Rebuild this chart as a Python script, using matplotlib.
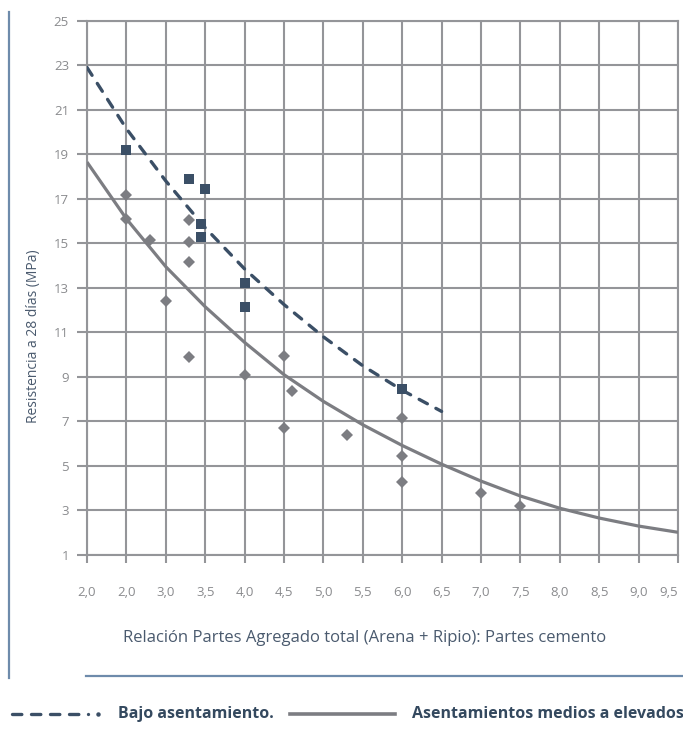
import numpy as np
import matplotlib
matplotlib.use("Agg")
import matplotlib.pyplot as plt
from matplotlib.lines import Line2D

# eixos
xTicks = [2.0, 2.5, 3.0, 3.5, 4.0, 4.5, 5.0, 5.5, 6.0, 6.5, 7.0, 7.5, 8.0, 8.5, 9.0, 9.5]
xTickLabels = ["2,0", "2,0", "3,0", "3,5", "4,0", "4,5", "5,0", "5,5",
               "6,0", "6,5", "7,0", "7,5", "8,0", "8,5", "9,0", "9,5"]
yTicks = [1, 3, 5, 7, 9, 11, 13, 15, 17, 19, 21, 23, 25]

# pontos - bajo asentamiento (quadrados)
bajoX = [2.5, 3.3, 3.5, 3.45, 3.45, 4.0, 4.0, 6.0]
bajoY = [19.2, 17.9, 17.45, 15.85, 15.3, 13.2, 12.15, 8.45]

# pontos - asentamientos medios a elevados (losangos)
mediosX = [2.5, 2.5, 2.8, 3.3, 3.3, 3.3, 3.0, 3.3, 4.0, 4.5, 4.6, 4.5, 5.3, 6.0, 6.0, 6.0, 7.0, 7.5]
mediosY = [17.15, 16.1, 15.15, 16.05, 15.05, 14.15, 12.4, 9.9, 9.1, 9.95, 8.35, 6.7, 6.4, 7.15, 5.45, 4.3, 3.8, 3.2]

# curvas
curvaBajoX = [2.0, 2.5, 3.0, 3.5, 4.0, 4.5, 5.0, 5.5, 6.0, 6.5]
curvaBajoY = [22.9, 20.15, 17.8, 15.7, 13.85, 12.25, 10.8, 9.5, 8.4, 7.45]
curvaMediosX = [2.0, 2.5, 3.0, 3.5, 4.0, 4.5, 5.0, 5.5, 6.0, 6.5, 7.0, 7.5, 8.0, 8.5, 9.0, 9.5]
curvaMediosY = [18.65, 16.1, 13.95, 12.15, 10.55, 9.1, 7.9, 6.85, 5.92, 5.08, 4.32, 3.65, 3.1, 2.66, 2.3, 2.02]

navy = "#3b4f66"
grey = "#7c7d82"
gridGrey = "#949599"
textGrey = "#8a8b8e"
labelColor = "#4a5a6e"
frameBlue = "#6e8bab"

W, H = 683, 736
fig = plt.figure(figsize=(W / 100, H / 100), dpi=100)
fig.patch.set_facecolor("white")

ax = fig.add_axes([87 / W, 1 - 555 / H, (678 - 87) / W, (555 - 20.7) / H])
ax.set_xlim(2.0, 9.5)
ax.set_ylim(1, 25)

ax.set_xticks(xTicks)
ax.set_xticklabels(xTickLabels)
ax.set_yticks(yTicks)
ax.grid(True, color=gridGrey, linewidth=1.5, zorder=0)
ax.set_axisbelow(True)
for s in ax.spines.values():
    s.set_color(gridGrey)
    s.set_linewidth(1.5)
ax.tick_params(axis="x", length=6, width=1.5, color=gridGrey, pad=16,
               labelsize=9.5, labelcolor=textGrey)
ax.tick_params(axis="y", length=7, width=1.5, color=gridGrey, pad=6,
               labelsize=9.5, labelcolor=textGrey)
for lbl in ax.get_xticklabels() + ax.get_yticklabels():
    lbl.set_fontfamily("Open Sans")
# o ultimo rotulo fica encostado na borda
ax.get_xticklabels()[-1].set_horizontalalignment("right")

ax.plot(curvaMediosX, curvaMediosY, color=grey, linewidth=2.3, zorder=3, solid_capstyle="butt")
ax.plot(curvaBajoX, curvaBajoY, color=navy, linewidth=2.4, dashes=(2.8, 2.9),
        dash_capstyle="round", zorder=4)
ax.plot(mediosX, mediosY, linestyle="none", marker="D", markersize=6.5,
        color=grey, markeredgewidth=0, zorder=5)
ax.plot(bajoX, bajoY, linestyle="none", marker="s", markersize=7,
        color=navy, markeredgewidth=0, zorder=5)

fig.text(34 / W, 1 - 336 / H, "Resistencia a 28 días (MPa)", rotation=90,
         ha="center", va="center", fontsize=10, color=labelColor, family="Open Sans")
fig.text(365 / W, 1 - 638 / H, "Relación Partes Agregado total (Arena + Ripio): Partes cemento",
         ha="center", va="center", fontsize=12, color=labelColor, family="Open Sans")

# linhas azuis do quadro
fig.add_artist(Line2D([9 / W, 9 / W], [1 - 12 / H, 1 - 678 / H], color=frameBlue, linewidth=1.6))
fig.add_artist(Line2D([86 / W, 1.0], [1 - 676 / H, 1 - 676 / H], color=frameBlue, linewidth=1.6))

# legenda (o segundo texto sai cortado na borda, como no original)
ly = 1 - 714 / H
fig.add_artist(Line2D([12 / W, 88 / W], [ly, ly], color=navy, linewidth=2.4,
                      dashes=(2.8, 2.9), dash_capstyle="round"))
fig.add_artist(Line2D([98 / W], [ly], color=navy, marker="o", markersize=2.2, linestyle="none"))
fig.text(118 / W, ly, "Bajo asentamiento.", ha="left", va="center", fontsize=11.5,
         fontweight="bold", color="#34495f", family="Open Sans")
fig.add_artist(Line2D([290 / W, 395 / W], [ly, ly], color=grey, linewidth=2.6))
fig.text(412 / W, ly, "Asentamientos medios a elevados", ha="left", va="center", fontsize=11.5,
         fontweight="bold", color="#34495f", family="Open Sans")

fig.savefig("out.png", dpi=100)
